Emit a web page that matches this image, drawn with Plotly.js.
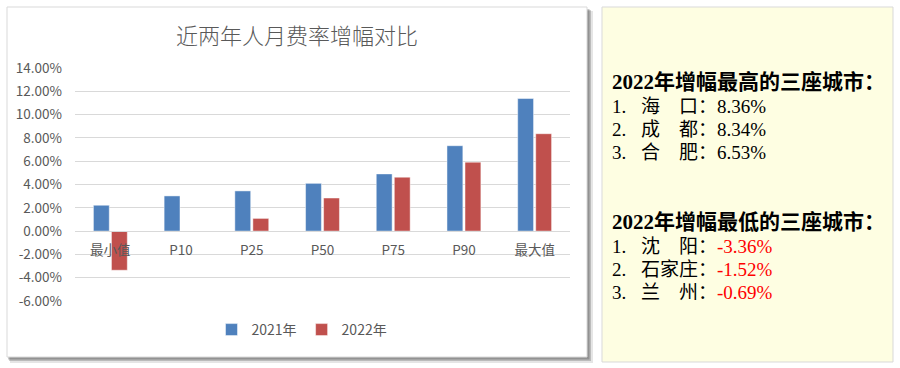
<!DOCTYPE html>
<html>
<head>
<meta charset="utf-8">
<script src="https://cdn.plot.ly/plotly-3.0.1.min.js"></script>
<style>html,body{margin:0;padding:0;background:#fff;}#chart{width:900px;height:368px;}</style>
</head>
<body>
<div id="chart"></div>
<script>
// ---- data ----
const categories = ['最小值', 'P10', 'P25', 'P50', 'P75', 'P90', '最大值'];
const series2021 = [2.22, 3.02, 3.45, 4.10, 4.91, 7.33, 11.38];
const series2022 = [-3.36, 0, 1.09, 2.84, 4.63, 5.92, 8.36];
const seriesNames = ['2021年', '2022年'];
const yTickVals = [-6, -4, -2, 0, 2, 4, 6, 8, 10, 12, 14];
const yTickText = ['-6.00%', '-4.00%', '-2.00%', '0.00%', '2.00%', '4.00%', '6.00%', '8.00%', '10.00%', '12.00%', '14.00%'];
const chartTitle = '近两年人月费率增幅对比';
const topHeading = '2022年增幅最高的三座城市：';
const topCities = ['海　口', '成　都', '合　肥'];
const topValues = [8.36, 8.34, 6.53];
const lowHeading = '2022年增幅最低的三座城市：';
const lowCities = ['沈　阳', '石家庄', '兰　州'];
const lowValues = [-3.36, -1.52, -0.69];

// ---- layout helpers (pixel -> paper) ----
const W = 900, H = 368;
const M = {l: 75, r: 330, t: 68, b: 67};
const PW = W - M.l - M.r, PH = H - M.t - M.b;
const px = x => (x - M.l) / PW;
const py = y => (H - M.b - y) / PH;

const gray = '#595959';
const cjk = '"Noto Sans CJK SC", "Noto Sans", sans-serif';
const serif = '"Liberation Serif", "Noto Sans CJK SC", serif';

const traces = [
  {type: 'bar', name: seriesNames[0], x: categories, y: series2021,
   marker: {color: '#4F81BD', line: {color: 'rgba(255,255,255,0.6)', width: 0.8}}},
  {type: 'bar', name: seriesNames[1], x: categories, y: series2022,
   marker: {color: '#C0504D', line: {color: 'rgba(255,255,255,0.6)', width: 0.8}}}
];

const shapes = [
  // chart box shadow
  {type: 'rect', xref: 'paper', yref: 'paper', layer: 'below', x0: px(10), x1: px(593), y0: py(11), y1: py(363), fillcolor: 'rgba(0,0,0,0.10)', line: {width: 0}},
  {type: 'rect', xref: 'paper', yref: 'paper', layer: 'below', x0: px(9), x1: px(591), y0: py(10), y1: py(361), fillcolor: 'rgba(0,0,0,0.18)', line: {width: 0}},
  {type: 'rect', xref: 'paper', yref: 'paper', layer: 'below', x0: px(8), x1: px(589.5), y0: py(9), y1: py(359.5), fillcolor: 'rgba(0,0,0,0.22)', line: {width: 0}},
  // chart box
  {type: 'rect', xref: 'paper', yref: 'paper', layer: 'below', x0: px(7), x1: px(587), y0: py(7), y1: py(357), fillcolor: '#ffffff', line: {color: '#D9D9D9', width: 1}},
  // right panel
  {type: 'rect', xref: 'paper', yref: 'paper', layer: 'below', x0: px(602), x1: px(893), y0: py(7), y1: py(362), fillcolor: '#FEFEE2', line: {color: '#D9D9D9', width: 1}}
];

const annotations = [];
function panelBlock(heading, headY, cities, values, valueColor) {
  annotations.push({xref: 'paper', yref: 'paper', x: px(610), y: py(headY), xanchor: 'left', yanchor: 'middle', showarrow: false,
    text: heading, font: {family: serif, size: 21, color: '#000', weight: 'bold'}});
  cities.forEach((c, i) => {
    const yy = headY + 24 + i * 23;
    annotations.push({xref: 'paper', yref: 'paper', x: px(610), y: py(yy), xanchor: 'left', yanchor: 'middle', showarrow: false,
      text: (i + 1) + '.', font: {family: serif, size: 19, color: '#000'}});
    annotations.push({xref: 'paper', yref: 'paper', x: px(639), y: py(yy), xanchor: 'left', yanchor: 'middle', showarrow: false,
      text: c + '：<span style="color:' + valueColor + '">' + values[i].toFixed(2) + '%</span>',
      font: {family: serif, size: 19, color: '#000'}});
  });
}
panelBlock(topHeading, 82, topCities, topValues, '#000000');
panelBlock(lowHeading, 222, lowCities, lowValues, '#FF0000');

const layout = {
  width: W, height: H,
  margin: M,
  paper_bgcolor: '#ffffff',
  plot_bgcolor: 'rgba(0,0,0,0)',
  title: {text: chartTitle, xref: 'paper', x: px(297), xanchor: 'center', yref: 'container', y: 1 - 36 / H, yanchor: 'middle',
          font: {family: cjk, size: 22, color: gray, weight: 300}},
  barmode: 'group', bargap: 0.49, bargroupgap: 0.12,
  xaxis: {type: 'category', anchor: 'free', position: py(231), showline: true, linecolor: '#D9D9D9', linewidth: 1,
          ticks: '', showgrid: false, ticklabelstandoff: 7, tickfont: {family: cjk, size: 13.5, color: gray}, fixedrange: true},
  yaxis: {range: [-6, 14], tickvals: yTickVals, ticktext: yTickText, showgrid: true, gridcolor: '#D9D9D9', gridwidth: 1,
          zeroline: false, showline: false, ticks: '', ticklabelstandoff: 12, tickfont: {family: cjk, size: 13.5, color: gray}, fixedrange: true},
  showlegend: true,
  legend: {orientation: 'h', x: px(302), xanchor: 'center', y: py(330), yanchor: 'middle',
           font: {family: cjk, size: 14, color: gray}, bgcolor: 'rgba(0,0,0,0)', itemwidth: 30},
  shapes: shapes,
  annotations: annotations
};

Plotly.newPlot('chart', traces, layout, {displayModeBar: false, staticPlot: true});
</script>
</body>
</html>
